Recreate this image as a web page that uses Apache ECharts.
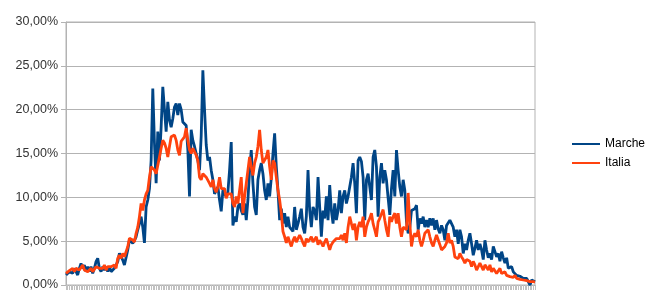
<!DOCTYPE html>
<html>
<head>
<meta charset="utf-8">
<script src="https://cdn.jsdelivr.net/npm/echarts@6/dist/echarts.min.js"></script>
<style>html,body{margin:0;padding:0;background:#fff}#c{width:650px;height:307px}</style>
</head>
<body>
<div id="c"></div>
<script>
// Series values (percent)
const marche = [
1.14,1.33,1.52,1.71,1.33,1.9,1.52,1.14,1.9,2.47,1.9,2.28,1.52,2.09,1.52,2.09,1.33,1.9,2.66,3.04,1.9,1.52,2.09,1.71,2.09,1.52,2.09,1.52,1.33,1.9,1.71,2.66,3.61,3.23,2.85,2.28,2.09,3.99,5.13,4.94,4.75,
5.1,5.5,6.3,7.0,7.8,6.6,4.8,8.9,9.7,11.0,14.2,22.4,16.2,11.6,17.5,14.2,18.0,22.6,20.0,17.5,20.9,18.8,18.0,19.0,20.3,20.7,19.4,20.7,20.0,18.6,18.6,18.2,15.4,10.1,17.7,16.5,15.8,15.0,14.2,13.1,17.0,24.5,
20.0,16.0,14.2,14.6,13.1,12.0,10.4,10.8,11.2,9.7,8.4,10.8,10.4,10.1,10.6,13.1,16.3,6.8,7.8,7.2,8.9,9.3,8.5,8.0,9.3,7.4,9.7,13.1,15.4,11.6,8.9,8.0,12.0,13.1,13.9,12.7,10.8,9.7,11.6,10.1,12.2,15.0,
17.3,13.5,10.8,7.4,8.7,7.0,8.2,6.6,7.8,6.6,6.8,6.1,8.9,6.3,7.0,7.8,8.7,6.6,5.9,7.8,13.1,8.5,6.6,8.9,8.5,7.4,12.3,8.9,5.5,8.5,7.6,10.1,7.4,11.4,8.5,7.0,9.3,7.4,8.5,10.8,8.2,10.1,
10.8,9.3,10.1,11.2,12.3,13.9,11.6,8.2,14.2,14.6,14.1,12.3,7.4,12.0,12.7,11.2,9.7,14.6,15.4,13.5,7.8,12.3,13.9,11.6,13.1,12.0,9.9,8.0,11.0,13.1,10.1,15.4,13.1,11.2,10.1,12.0,10.8,7.2,5.9,6.6,8.5,8.7,
8.7,9.1,6.3,7.6,7.0,7.8,6.6,7.4,6.6,7.6,6.8,7.6,6.3,7.4,6.4,5.9,6.8,6.3,5.1,6.8,6.6,7.4,7.6,6.6,5.5,6.3,4.7,6.3,5.5,3.6,4.7,4.0,5.1,5.9,4.7,3.4,4.2,5.1,4.0,4.7,4.0,2.9,
5.1,4.0,3.1,3.6,2.9,4.4,4.6,3.2,3.6,2.7,3.8,3.1,2.5,3.1,1.9,1.7,2.1,1.5,1.3,1.1,0.95,1.0,0.85,0.76,0.85,0.76,0.57,0.0,0.57,0.5,0.38
];
const italia = [
1.33,1.52,1.63,1.71,1.9,1.52,1.9,2.09,1.71,1.9,2.28,1.71,1.9,1.52,1.71,1.9,1.52,1.71,2.09,2.28,1.9,1.71,1.9,2.28,1.71,2.09,1.9,2.09,1.9,2.28,1.9,3.04,3.42,3.04,3.61,3.23,3.8,4.37,5.32,5.51,5.13,
4.9,5.9,6.6,7.8,9.3,8.5,9.7,10.4,10.8,12.3,13.5,13.3,13.1,12.7,12.5,14.6,15.6,16.5,16.2,15.6,14.6,15.8,16.9,17.1,17.1,16.5,15.4,14.8,16.4,16.5,16.9,17.9,16.5,15.4,15.0,15.6,15.2,14.8,14.2,12.3,12.0,12.7,
12.7,12.3,12.2,11.6,11.2,12.0,11.0,10.6,11.2,12.3,11.0,10.8,11.0,9.9,10.4,10.6,10.4,9.3,8.9,10.1,9.3,10.8,12.3,8.2,10.1,11.6,13.1,14.6,13.5,12.5,13.9,14.6,15.8,17.7,15.4,13.9,13.7,14.6,15.4,13.5,12.0,14.2,
13.9,12.3,10.8,9.7,8.2,6.1,5.5,4.8,5.5,4.9,4.4,5.1,5.5,4.9,4.8,5.7,5.3,4.8,4.4,5.3,4.9,5.1,5.5,4.9,5.1,5.5,4.6,5.1,4.8,4.4,4.9,5.3,5.1,4.0,4.6,4.9,4.9,5.3,5.5,5.3,5.7,5.1,
5.9,4.8,6.6,7.8,7.0,6.3,7.0,5.1,6.6,7.2,6.6,7.8,5.5,6.6,7.2,7.6,8.2,7.0,6.3,5.5,7.2,7.6,7.8,8.6,7.4,6.3,5.5,7.8,7.2,7.8,8.2,7.0,8.2,6.6,5.5,6.6,6.6,6.3,10.5,7.0,4.4,5.5,
5.9,5.5,6.3,5.1,4.4,5.1,5.9,6.1,6.3,5.5,4.8,4.4,5.1,5.7,5.5,4.6,4.0,3.8,4.4,4.8,5.9,4.8,5.1,4.4,3.2,3.4,3.0,3.6,3.2,2.9,2.5,2.9,3.0,2.7,2.1,2.7,2.3,1.7,2.1,2.5,2.1,1.7,
2.3,2.1,1.7,2.3,1.5,1.9,1.7,1.3,1.5,1.9,1.3,1.1,1.5,1.1,1.3,0.95,1.1,0.87,1.1,0.76,0.87,0.65,0.76,0.57,0.65,0.49,0.57,0.38,0.49,0.38,0.34
];
const seriesNames = ['Marche', 'Italia'];
const categories = Array.from({length: marche.length}, (_, i) => String(i + 1));
const yMin = 0, yMax = 30, yStep = 5;

const chart = echarts.init(document.getElementById('c'), null, {renderer: 'canvas'});
const font = 'Liberation Sans, Arial, sans-serif';
chart.setOption({
  animation: false,
  backgroundColor: '#ffffff',
  grid: {left: 66, right: 115, top: 22, bottom: 22, show: true, borderColor: '#b3b3b3', borderWidth: 1},
  legend: {
    orient: 'vertical', left: 567, top: 133, itemGap: 7,
    itemWidth: 28, itemHeight: 2, icon: 'rect',
    textStyle: {fontFamily: font, fontSize: 12, color: '#000'},
    data: seriesNames
  },
  xAxis: {
    type: 'category', data: categories, boundaryGap: false,
    axisLine: {show: true, lineStyle: {color: '#b3b3b3'}},
    axisTick: {show: true, interval: 0, length: 5, lineStyle: {color: '#c0c0c0'}},
    axisLabel: {show: false},
    splitLine: {show: false}
  },
  yAxis: {
    type: 'value', min: yMin, max: yMax, interval: yStep,
    axisLine: {show: true, lineStyle: {color: '#b3b3b3'}},
    axisTick: {show: true, length: 5, lineStyle: {color: '#b3b3b3'}},
    axisLabel: {
      margin: 8, fontFamily: font, fontSize: 12.5, color: '#333',
      formatter: v => v.toFixed(2).replace('.', ',') + '%'
    },
    splitLine: {show: true, lineStyle: {color: '#b3b3b3'}}
  },
  series: [
    {name: seriesNames[0], type: 'line', data: marche, symbol: 'none', lineStyle: {width: 2.8, color: '#004586'}, itemStyle: {color: '#004586'}},
    {name: seriesNames[1], type: 'line', data: italia, symbol: 'none', lineStyle: {width: 2.8, color: '#ff420e'}, itemStyle: {color: '#ff420e'}}
  ]
});
</script>
</body>
</html>
